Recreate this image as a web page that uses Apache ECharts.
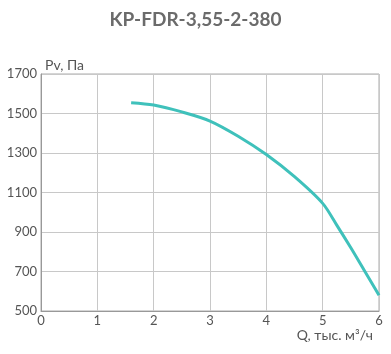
<!DOCTYPE html>
<html><head><meta charset="utf-8">
<script src="https://cdn.jsdelivr.net/npm/echarts@6/dist/echarts.min.js"></script>
<style>html,body{margin:0;padding:0;background:#fff}#c{width:391px;height:354px}</style>
</head><body><div id="c"></div>
<script>
const titleText = "KP-FDR-3,55-2-380";
const xName = "Q, тыс. м³/ч";
const yName = "Pv, Па";
const flowQ = [1.6, 2.0, 2.5, 3.0, 3.5, 4.0, 4.5, 5.0, 5.25, 5.5, 5.75, 6.0];
const pressurePv = [1555, 1543, 1508, 1462, 1385, 1292, 1180, 1045, 935, 820, 700, 580];

const chart = echarts.init(document.getElementById('c'), null, {renderer: 'canvas'});
const lbl = {color: '#555', fontFamily: 'Lato, "Noto Sans", sans-serif', fontSize: 13};
chart.setOption({
  animation: false,
  title: {text: titleText, left: 'center', top: 5,
    textStyle: {color: '#6b6b6b', fontSize: 19, fontWeight: 'bold', fontFamily: 'Lato, "Noto Sans", sans-serif'}},
  grid: {left: 41, right: 12, top: 74, bottom: 43, show: true, borderColor: '#aaa', borderWidth: 1, backgroundColor: 'transparent'},
  xAxis: {type: 'value', min: 0, max: 6, interval: 1,
    axisLine: {show: true, lineStyle: {color: '#999'}}, axisTick: {show: false},
    splitLine: {show: true, lineStyle: {color: '#c8c8c8', width: 1}},
    axisLabel: Object.assign({margin: 3, formatter: v => String(v)}, lbl),
    name: xName, nameLocation: 'end', nameGap: 0,
    nameTextStyle: Object.assign({}, lbl, {fontSize: 14, align: 'right', verticalAlign: 'top', padding: [17, 6, 0, 0]})},
  yAxis: {type: 'value', min: 500, max: 1700, interval: 200,
    axisLine: {show: true, lineStyle: {color: '#999'}}, axisTick: {show: false},
    splitLine: {show: true, lineStyle: {color: '#c8c8c8', width: 1}},
    axisLabel: Object.assign({margin: 4, formatter: v => String(v)}, lbl),
    name: yName, nameLocation: 'end', nameGap: 2,
    nameTextStyle: Object.assign({}, lbl, {fontSize: 14, align: 'left', padding: [0, 0, 0, 4]})},
  series: [{type: 'line', data: flowQ.map((q, i) => [q, pressurePv[i]]), smooth: 0.3,
    showSymbol: false, lineStyle: {color: '#3fc1bb', width: 3}}]
});
</script></body></html>
